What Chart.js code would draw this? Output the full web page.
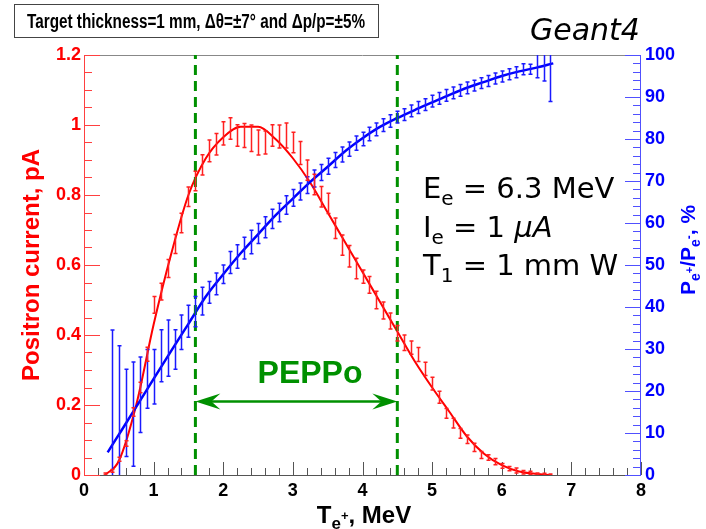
<!DOCTYPE html>
<html>
<head>
<meta charset="utf-8">
<title>PEPPo positron current</title>
<script src="https://cdn.jsdelivr.net/npm/chart.js@4.4.1/dist/chart.umd.min.js"></script>
<style>
    html, body { margin: 0; padding: 0; background: #fff; }
    canvas { display: block; }
</style>
</head>
<body>
<canvas id="chart" width="706" height="529"></canvas>
<script>
// Positron current histogram (left axis, pA)
const redBins = [0.3, 0.4, 0.5, 0.6, 0.7, 0.8, 0.9, 1.0, 1.1, 1.2, 1.3, 1.4, 1.5, 1.6, 1.7, 1.8, 1.9, 2.0, 2.1, 2.2,
    2.3, 2.4, 2.5, 2.6, 2.7, 2.8, 2.9, 3.0, 3.1, 3.2, 3.3, 3.4, 3.5, 3.6, 3.7, 3.8, 3.9, 4.0, 4.1, 4.2,
    4.3, 4.4, 4.5, 4.6, 4.7, 4.8, 4.9, 5.0, 5.1, 5.2, 5.3, 5.4, 5.5, 5.6, 5.7, 5.8, 5.9, 6.0, 6.1, 6.2,
    6.3, 6.4, 6.5, 6.6, 6.7];
const redCurrent = [0.003, 0.012, 0.045, 0.09, 0.18, 0.25, 0.345, 0.486, 0.524, 0.59, 0.66, 0.72, 0.795, 0.84, 0.886, 0.926, 0.945, 0.976, 0.99, 0.97,
    0.97, 0.962, 0.95, 0.95, 0.97, 0.967, 0.97, 0.95, 0.92, 0.871, 0.83, 0.795, 0.776, 0.705, 0.657, 0.625, 0.59, 0.567, 0.543, 0.5,
    0.47, 0.44, 0.405, 0.378, 0.364, 0.344, 0.303, 0.261, 0.222, 0.176, 0.148, 0.119, 0.102, 0.079, 0.057, 0.05, 0.038, 0.026, 0.018, 0.013,
    0.008, 0.006, 0.003, 0.002, 0.001];
const redErrors = [0.003, 0.004, 0.006, 0.008, 0.012, 0.015, 0.02, 0.024, 0.024, 0.026, 0.027, 0.028, 0.028, 0.028, 0.029, 0.031, 0.031, 0.033, 0.031, 0.031,
    0.034, 0.038, 0.036, 0.033, 0.031, 0.033, 0.036, 0.029, 0.033, 0.029, 0.029, 0.029, 0.029, 0.029, 0.029, 0.031, 0.029, 0.019, 0.024, 0.025,
    0.024, 0.023, 0.022, 0.022, 0.019, 0.02, 0.019, 0.018, 0.017, 0.014, 0.014, 0.014, 0.012, 0.012, 0.01, 0.008, 0.009, 0.007, 0.006, 0.007,
    0.005, 0.005, 0.003, 0.003, 0.002];

// Polarization transfer histogram (right axis, %)
const blueBins = [0.4, 0.5, 0.6, 0.7, 0.8, 0.9, 1.0, 1.1, 1.2, 1.3, 1.4, 1.5, 1.6, 1.7, 1.8, 1.9, 2.0, 2.1, 2.2,
    2.3, 2.4, 2.5, 2.6, 2.7, 2.8, 2.9, 3.0, 3.1, 3.2, 3.3, 3.4, 3.5, 3.6, 3.7, 3.8, 3.9, 4.0, 4.1, 4.2,
    4.3, 4.4, 4.5, 4.6, 4.7, 4.8, 4.9, 5.0, 5.1, 5.2, 5.3, 5.4, 5.5, 5.6, 5.7, 5.8, 5.9, 6.0, 6.1, 6.2,
    6.3, 6.4, 6.5, 6.6, 6.7];
const bluePolar = [10, 15.2, 14.8, 14.5, 19.1, 22.9, 23.4, 28.4, 30.2, 29.9, 34, 36.6, 38.9, 41.4, 43.5, 45.5, 47.8, 50.6, 52,
    54, 55.5, 57.5, 59, 61, 62.5, 64.3, 66, 67.5, 69, 70.6, 72, 73.5, 75, 76.3, 77.6, 79, 80, 81.2, 82.3,
    83.3, 84.3, 85.2, 85.8, 86.7, 87.5, 88.2, 89, 89.7, 90.4, 91, 91.6, 92.2, 92.7, 93.3, 93.8, 94.4, 94.9, 95.4, 95.9,
    96.6, 96.6, 97.6, 97.8, 98.2];
const blueErrors = [24.5, 15.6, 10.4, 12.4, 9, 7, 6.5, 6.2, 6.7, 4.7, 4.1, 3.8, 3.6, 3.3, 2.6, 2.6, 2.2, 2.6, 2.8,
    2.6, 2.8, 2.4, 2.5, 2.3, 2.2, 2.2, 2.0, 2.0, 2.0, 2.0, 1.9, 1.9, 1.8, 1.8, 1.7, 1.7, 1.6, 1.6, 1.5,
    1.5, 1.5, 1.4, 1.4, 1.4, 1.4, 1.4, 1.4, 1.4, 1.4, 1.4, 1.4, 1.4, 1.3, 1.3, 1.3, 1.3, 1.3, 1.3, 1.3,
    1.3, 1.2, 3.0, 4.0, 9.3];

// Fit curves
const redFitX = [0.3, 0.5, 0.75, 1.0, 1.25, 1.5, 1.75, 2.0, 2.25, 2.5, 2.75, 3.0, 3.25, 3.5, 3.75, 4.0, 4.25, 4.5,
    4.75, 5.0, 5.25, 5.5, 5.75, 6.0, 6.25, 6.5, 6.7];
const redFitY = [0, 0.04, 0.2, 0.43, 0.63, 0.8, 0.905, 0.965, 0.995, 0.995, 0.96, 0.905, 0.835, 0.75, 0.665, 0.58, 0.495, 0.41,
    0.325, 0.25, 0.18, 0.11, 0.06, 0.028, 0.01, 0.003, 0];
const blueFitX = [0.34, 0.5, 0.75, 1.0, 1.25, 1.5, 1.75, 2.0, 2.25, 2.5, 2.75, 3.0, 3.25, 3.5, 3.75, 4.0, 4.25, 4.5,
    4.75, 5.0, 5.25, 5.5, 5.75, 6.0, 6.25, 6.5, 6.74];
const blueFitY = [5.4, 9.6, 16.2, 22.9, 29.5, 36, 42.5, 47.8, 52.8, 57.3, 61.8, 65.8, 69.8, 73.4, 77.1, 80.2, 82.9, 85.0,
    86.9, 88.7, 90.5, 92.2, 93.6, 95.0, 96.1, 97.0, 98.0];

// PEPPo energy window and arrow level
const peppoWindow = [1.6, 4.5];
const arrowLevel = 0.21;

const xTickLabels = ['0', '1', '2', '3', '4', '5', '6', '7', '8'];
const leftTickLabels = ['0', '0.2', '0.4', '0.6', '0.8', '1', '1.2'];
const rightTickLabels = ['0', '10', '20', '30', '40', '50', '60', '70', '80', '90', '100'];

const RED = '#ff0000';
const BLUE = '#0000ff';
const GREEN = '#009000';
const AXIS_FONT = "'Liberation Sans', Arial, sans-serif";
const NOTE_FONT = "'DejaVu Sans', sans-serif";

const toPoints = (xs, ys) => xs.map((x, i) => ({ x: x, y: ys[i] }));

// text with sub/superscripts: parts = [[text, size, dy, style]]
function richText(ctx, parts, x, y, align, family, weight) {
    const fontOf = p => `${p[3] || 'normal'} ${weight} ${p[1]}px ${family}`;
    let total = 0;
    parts.forEach(p => { ctx.font = fontOf(p); total += ctx.measureText(p[0]).width; });
    let cx = align === 'center' ? x - total / 2 : (align === 'right' ? x - total : x);
    ctx.textAlign = 'left';
    parts.forEach(p => {
        ctx.font = fontOf(p);
        ctx.fillText(p[0], cx, y + (p[2] || 0));
        cx += ctx.measureText(p[0]).width;
    });
}

const frameAndTicks = {
    id: 'frameAndTicks',
    beforeDatasetsDraw(chart) {
        const ctx = chart.ctx;
        const a = chart.chartArea;
        const xs = chart.scales.x, yl = chart.scales.y, yr = chart.scales.y1;
        ctx.save();
        ctx.lineWidth = 1;

        ctx.strokeStyle = '#888';
        ctx.beginPath();
        ctx.moveTo(a.left, a.top + 0.5); ctx.lineTo(a.right, a.top + 0.5);
        ctx.stroke();

        ctx.strokeStyle = '#555';
        ctx.beginPath();
        ctx.moveTo(a.left, a.bottom + 0.5); ctx.lineTo(a.right, a.bottom + 0.5);
        for (let i = 0; i <= 40; i++) {
            const px = Math.round(xs.getPixelForValue(i * 0.2)) + 0.5;
            const len = i % 5 === 0 ? 13 : 7;
            ctx.moveTo(px, a.bottom); ctx.lineTo(px, a.bottom - len);
        }
        ctx.stroke();

        ctx.strokeStyle = '#ff4040';
        ctx.beginPath();
        ctx.moveTo(a.left + 0.5, a.top); ctx.lineTo(a.left + 0.5, a.bottom);
        for (let i = 0; i <= 24; i++) {
            const py = Math.round(yl.getPixelForValue(i * 0.05)) + 0.5;
            const len = i % 4 === 0 ? 16 : 8;
            ctx.moveTo(a.left, py); ctx.lineTo(a.left + len, py);
        }
        ctx.stroke();

        ctx.strokeStyle = '#5050ff';
        ctx.beginPath();
        ctx.moveTo(a.right - 0.5, a.top); ctx.lineTo(a.right - 0.5, a.bottom);
        for (let i = 0; i <= 50; i++) {
            const py = Math.round(yr.getPixelForValue(i * 2)) + 0.5;
            const len = i % 5 === 0 ? 16 : 8;
            ctx.moveTo(a.right, py); ctx.lineTo(a.right - len, py);
        }
        ctx.stroke();
        ctx.restore();
    }
};

const errorBars = {
    id: 'errorBars',
    afterDatasetsDraw(chart) {
        const ctx = chart.ctx;
        const a = chart.chartArea;
        ctx.save();
        ctx.beginPath();
        ctx.rect(a.left, a.top, a.right - a.left, a.bottom - a.top);
        ctx.clip();
        chart.data.datasets.forEach(ds => {
            if (!ds.errors) return;
            const xs = chart.scales.x, ys = chart.scales[ds.yAxisID];
            ctx.strokeStyle = ds.barColor;
            ctx.lineWidth = 1.5;
            ctx.beginPath();
            ds.data.forEach((p, k) => {
                const x = Math.round(xs.getPixelForValue(p.x)) + 0.5;
                const lo = ys.getPixelForValue(p.y - ds.errors[k]);
                const hi = ys.getPixelForValue(p.y + ds.errors[k]);
                ctx.moveTo(x, lo); ctx.lineTo(x, hi);
                ctx.moveTo(x - 2, lo); ctx.lineTo(x + 2, lo);
                ctx.moveTo(x - 2, hi); ctx.lineTo(x + 2, hi);
            });
            ctx.stroke();
        });
        ctx.restore();
    }
};

const arrowHeads = {
    id: 'arrowHeads',
    afterDatasetsDraw(chart) {
        const ctx = chart.ctx;
        const xs = chart.scales.x, ys = chart.scales.y;
        const y = ys.getPixelForValue(arrowLevel);
        ctx.save();
        ctx.fillStyle = GREEN;
        [[peppoWindow[0], 1], [peppoWindow[1], -1]].forEach(([v, dir]) => {
            const x = xs.getPixelForValue(v);
            ctx.beginPath();
            ctx.moveTo(x, y);
            ctx.lineTo(x + dir * 25, y - 8);
            ctx.lineTo(x + dir * 16, y);
            ctx.lineTo(x + dir * 25, y + 8);
            ctx.closePath();
            ctx.fill();
        });
        ctx.restore();
    }
};

const annotations = {
    id: 'annotations',
    afterDraw(chart) {
        const ctx = chart.ctx;
        ctx.save();
        ctx.textBaseline = 'alphabetic';

        // title box, text squeezed to a condensed look
        ctx.fillStyle = '#fff';
        ctx.fillRect(14, 4, 364, 33);
        ctx.strokeStyle = '#444';
        ctx.lineWidth = 1;
        ctx.strokeRect(14.5, 4.5, 364, 33);
        ctx.fillStyle = '#000';
        ctx.font = `bold 20px ${AXIS_FONT}`;
        ctx.textAlign = 'center';
        const title = 'Target thickness=1 mm, \u0394\u03b8=\u00b17\u00b0 and \u0394p/p=\u00b15%';
        const squeeze = Math.min(1, 338 / ctx.measureText(title).width);
        ctx.save();
        ctx.translate(196, 28);
        ctx.scale(squeeze, 1);
        ctx.fillText(title, 0, 0);
        ctx.restore();

        ctx.font = `italic 30px ${NOTE_FONT}`;
        ctx.textAlign = 'left';
        ctx.fillText('Geant4', 530, 40);

        // beam parameters
        richText(ctx, [['E', 29], ['e', 20, 7], [' = 6.3 MeV', 29]], 423, 198, 'left', NOTE_FONT, 'normal');
        richText(ctx, [['I', 29], ['e', 20, 7], [' = 1 ', 29], ['\u03bcA', 29, 0, 'italic']], 423, 237, 'left', NOTE_FONT, 'normal');
        richText(ctx, [['T', 29], ['1', 20, 7], [' = 1 mm W', 29]], 423, 275, 'left', NOTE_FONT, 'normal');

        ctx.fillStyle = GREEN;
        ctx.font = `bold 32px ${AXIS_FONT}`;
        ctx.textAlign = 'center';
        ctx.fillText('PEPPo', 310, 383);

        // axis titles
        ctx.fillStyle = '#000';
        richText(ctx, [['T', 24], ['e', 17, 6], ['+', 13, -3], [', MeV', 24]], 364, 523, 'center', AXIS_FONT, 'bold');

        ctx.fillStyle = RED;
        ctx.save();
        ctx.translate(30, 265);
        ctx.rotate(-Math.PI / 2);
        richText(ctx, [['Positron current, pA', 24]], 0, 9, 'center', AXIS_FONT, 'bold');
        ctx.restore();

        ctx.fillStyle = BLUE;
        ctx.save();
        ctx.translate(687, 250);
        ctx.rotate(-Math.PI / 2);
        richText(ctx, [['P', 21], ['e', 14, 5], ['+', 11, -2], ['/P', 21], ['e', 14, 5], ['-', 12, -2], [', %', 21]],
            0, 8, 'center', AXIS_FONT, 'bold');
        ctx.restore();

        ctx.restore();
    }
};

document.addEventListener('DOMContentLoaded', () => {
    const ctx = document.getElementById('chart');
    new Chart(ctx, {
        type: 'line',
        data: {
            datasets: [
                {
                    label: 'PEPPo window low',
                    data: [{ x: peppoWindow[0], y: 0 }, { x: peppoWindow[0], y: 1.2 }],
                    yAxisID: 'y',
                    borderColor: GREEN, borderWidth: 3, borderDash: [10, 6],
                    pointRadius: 0
                },
                {
                    label: 'PEPPo window high',
                    data: [{ x: peppoWindow[1], y: 0 }, { x: peppoWindow[1], y: 1.2 }],
                    yAxisID: 'y',
                    borderColor: GREEN, borderWidth: 3, borderDash: [10, 6],
                    pointRadius: 0
                },
                {
                    label: 'PEPPo arrow',
                    data: [{ x: peppoWindow[0] + 0.1, y: arrowLevel }, { x: peppoWindow[1] - 0.1, y: arrowLevel }],
                    yAxisID: 'y',
                    borderColor: GREEN, borderWidth: 2.5,
                    pointRadius: 0
                },
                {
                    label: 'Polarization data',
                    data: toPoints(blueBins, bluePolar),
                    errors: blueErrors,
                    barColor: '#1a1aff',
                    yAxisID: 'y1',
                    showLine: false,
                    pointRadius: 0
                },
                {
                    label: 'Polarization fit',
                    data: toPoints(blueFitX, blueFitY),
                    yAxisID: 'y1',
                    borderColor: BLUE, borderWidth: 2.5,
                    cubicInterpolationMode: 'monotone',
                    pointRadius: 0
                },
                {
                    label: 'Current data',
                    data: toPoints(redBins, redCurrent),
                    errors: redErrors,
                    barColor: '#ff2020',
                    yAxisID: 'y',
                    showLine: false,
                    pointRadius: 0
                },
                {
                    label: 'Current fit',
                    data: toPoints(redFitX, redFitY),
                    yAxisID: 'y',
                    borderColor: RED, borderWidth: 2,
                    cubicInterpolationMode: 'monotone',
                    pointRadius: 0
                }
            ]
        },
        options: {
            responsive: false,
            animation: false,
            layout: { padding: { top: 55, left: 0, right: 0, bottom: 0 } },
            plugins: { legend: { display: false }, tooltip: { enabled: false } },
            scales: {
                x: {
                    type: 'linear', min: 0, max: 8,
                    grid: { display: false, drawTicks: false },
                    border: { display: false },
                    ticks: {
                        stepSize: 1, padding: 5, color: '#000',
                        font: { family: AXIS_FONT, size: 18, weight: 'bold' },
                        maxRotation: 0,
                        callback: v => xTickLabels[Math.round(v)]
                    },
                    afterFit: s => { s.height = 54; }
                },
                y: {
                    position: 'left', min: 0, max: 1.2,
                    grid: { display: false, drawTicks: false },
                    border: { display: false },
                    ticks: {
                        stepSize: 0.2, padding: 3, color: RED,
                        font: { family: AXIS_FONT, size: 18, weight: 'bold' },
                        callback: v => leftTickLabels[Math.round(v / 0.2)]
                    },
                    afterFit: s => { s.width = 84; }
                },
                y1: {
                    position: 'right', min: 0, max: 100,
                    grid: { display: false, drawTicks: false },
                    border: { display: false },
                    ticks: {
                        stepSize: 10, padding: 4, color: BLUE,
                        font: { family: AXIS_FONT, size: 18, weight: 'bold' },
                        callback: v => rightTickLabels[Math.round(v / 10)]
                    },
                    afterFit: s => { s.width = 65; }
                }
            }
        },
        plugins: [frameAndTicks, errorBars, arrowHeads, annotations]
    });
});
</script>
</body>
</html>
